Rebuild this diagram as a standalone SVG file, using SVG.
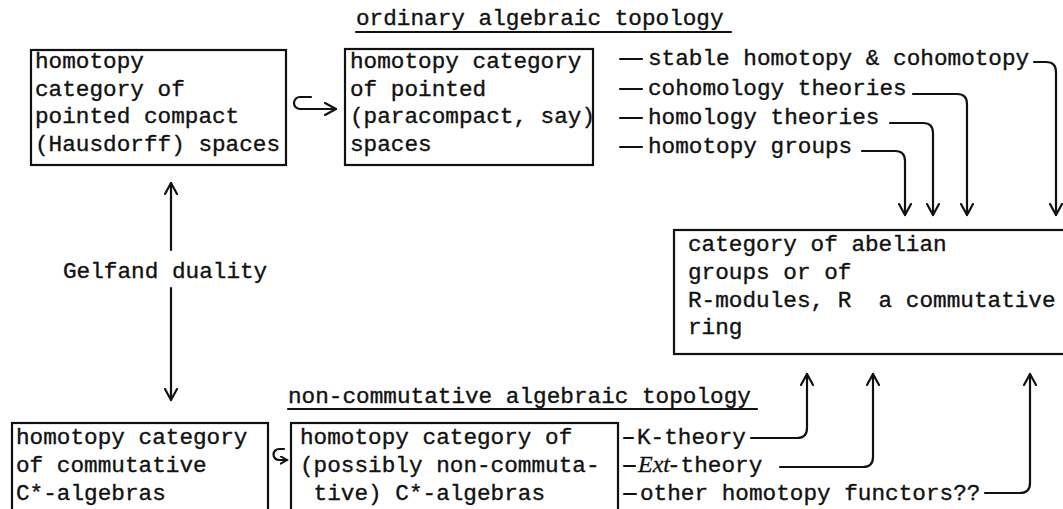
<svg xmlns="http://www.w3.org/2000/svg" width="1063" height="509" viewBox="0 0 1063 509">
  <style>
    .t { font-family: "Liberation Mono", "DejaVu Sans Mono", monospace; font-size: 22.7px; fill: #111; stroke: #111; stroke-width: 0.35; }
    .it { font-family: "Liberation Serif", serif; font-style: italic; font-size: 24px; fill: #111; stroke: #111; stroke-width: 0.3; }
    .box { fill: none; stroke: #111; stroke-width: 2.2; }
    .ln { fill: none; stroke: #111; stroke-width: 2.2; stroke-linecap: round; stroke-linejoin: round; }
    .arr { marker-end: url(#head); }
  </style>
  <defs>
    <marker id="head" viewBox="0 0 14 14" refX="12" refY="7" markerWidth="14" markerHeight="14" markerUnits="userSpaceOnUse" orient="auto">
      <path d="M1,1 L12,7 L1,13" fill="none" stroke="#111" stroke-width="2.2" stroke-linecap="round" stroke-linejoin="round"/>
    </marker>
    <marker id="small" viewBox="0 0 10 10" refX="8" refY="5" markerWidth="9" markerHeight="9" markerUnits="userSpaceOnUse" orient="auto">
      <path d="M1,1 L8,5 L1,9" fill="none" stroke="#111" stroke-width="2.2" stroke-linecap="round"/>
    </marker>
  </defs>

  <rect width="1063" height="509" fill="#fff"/>

  <!-- section headings -->
  <g id="heading-ordinary">
    <text class="t" x="356" y="25">ordinary algebraic topology</text>
    <line class="ln" x1="356" y1="32" x2="731" y2="32" stroke-width="1.8"/>
  </g>
  <g id="heading-noncommutative">
    <text class="t" x="288" y="403">non-commutative algebraic topology</text>
    <line class="ln" x1="288" y1="409" x2="757" y2="409" stroke-width="1.8"/>
  </g>

  <!-- nodes -->
  <g id="compact-spaces">
    <rect class="box" x="31" y="50" width="255" height="115"/>
    <text class="t" x="35" y="68">homotopy</text>
    <text class="t" x="35" y="96">category of</text>
    <text class="t" x="35" y="123">pointed compact</text>
    <text class="t" x="35" y="151">(Hausdorff) spaces</text>
  </g>

  <g id="paracompact-spaces">
    <rect class="box" x="345" y="49" width="248" height="116"/>
    <text class="t" x="350" y="68">homotopy category</text>
    <text class="t" x="350" y="96">of pointed</text>
    <text class="t" x="350" y="123">(paracompact, say)</text>
    <text class="t" x="350" y="151">spaces</text>
  </g>

  <g id="ordinary-functors">
    <text class="t" x="648" y="65">stable homotopy &amp; cohomotopy</text>
    <text class="t" x="648" y="95">cohomology theories</text>
    <text class="t" x="648" y="124">homology theories</text>
    <text class="t" x="648" y="153">homotopy groups</text>
  </g>

  <g id="abelian-groups">
    <rect class="box" x="674" y="230" width="400" height="124"/>
    <text class="t" x="688" y="251">category of abelian</text>
    <text class="t" x="688" y="279">groups or of</text>
    <text class="t" x="688" y="307" xml:space="preserve">R-modules, R  a commutative</text>
    <text class="t" x="688" y="334">ring</text>
  </g>

  <g id="gelfand">
    <text class="t" x="63" y="278">Gelfand duality</text>
  </g>

  <g id="commutative-algebras">
    <rect class="box" x="12" y="423" width="256" height="100"/>
    <text class="t" x="16" y="444">homotopy category</text>
    <text class="t" x="16" y="472">of commutative</text>
    <text class="t" x="16" y="500">C*-algebras</text>
  </g>

  <g id="noncommutative-algebras">
    <rect class="box" x="291" y="423" width="327" height="100"/>
    <text class="t" x="300" y="444">homotopy category of</text>
    <text class="t" x="300" y="472">(possibly non-commuta-</text>
    <text class="t" x="313.6" y="500">tive) C*-algebras</text>
  </g>

  <g id="noncommutative-functors">
    <text class="t" x="637" y="444">K-theory</text>
    <text class="it" x="638" y="472">Ext</text>
    <text class="t" x="667" y="472">-theory</text>
    <text class="t" x="640" y="500">other homotopy functors??</text>
  </g>

  <!-- connectors -->
  <g id="connectors">
    <!-- inclusion hooks -->
    <path class="ln" marker-end="url(#head)" d="M311,97 L300,97 A6,6 0 0 0 300,109 L336,109"/>
    <path class="ln" marker-end="url(#small)" d="M284,449 L279,449 A5.5,5.5 0 0 0 279,460 L287,460"/>

    <!-- Gelfand duality -->
    <line class="ln arr" x1="171" y1="250" x2="171" y2="183"/>
    <line class="ln arr" x1="171" y1="288" x2="171" y2="400"/>

    <!-- label stubs -->
    <line class="ln" x1="620" y1="59" x2="642" y2="59"/>
    <line class="ln" x1="620" y1="89" x2="642" y2="89"/>
    <line class="ln" x1="620" y1="118" x2="642" y2="118"/>
    <line class="ln" x1="620" y1="147" x2="642" y2="147"/>
    <line class="ln" x1="624" y1="438" x2="633" y2="438"/>
    <line class="ln" x1="624" y1="466" x2="635" y2="466"/>
    <line class="ln" x1="624" y1="494" x2="636" y2="494"/>

    <!-- ordinary functors into the abelian category -->
    <path class="ln arr" d="M1034,62 L1046,62 Q1056,62 1056,72 L1056,215"/>
    <path class="ln arr" d="M913,94 L957,94 Q967,94 967,104 L967,215"/>
    <path class="ln arr" d="M890,123 L923,123 Q933,123 933,133 L933,215"/>
    <path class="ln arr" d="M862,151 L895,151 Q905,151 905,161 L905,215"/>

    <!-- non-commutative functors into the abelian category -->
    <path class="ln arr" d="M751,438 L797,438 Q807,438 807,428 L807,374"/>
    <path class="ln arr" d="M780,467 L863,467 Q873,467 873,457 L873,374"/>
    <path class="ln arr" d="M985,493 L1020,493 Q1030,493 1030,483 L1030,374"/>
  </g>
</svg>
